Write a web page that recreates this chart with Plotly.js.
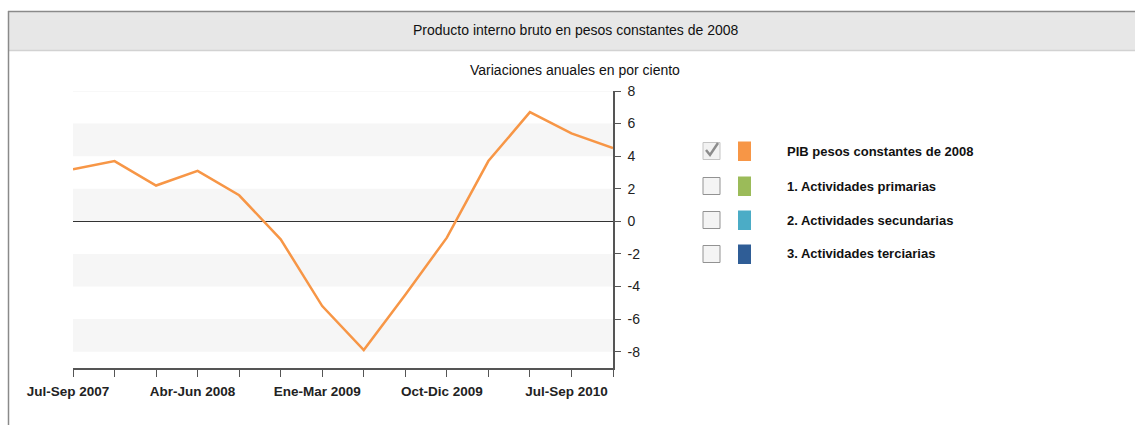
<!DOCTYPE html>
<html>
<head>
<meta charset="utf-8">
<script src="https://cdn.plot.ly/plotly-3.0.1.min.js"></script>
<style>
  html, body { margin: 0; padding: 0; background: #fff; }
  #chart { width: 1135px; height: 425px; }
</style>
</head>
<body>
<div id="chart"></div>
<script>
// ---- data ----
const quarters = [
  "Jul-Sep 2007", "Oct-Dic 2007", "Ene-Mar 2008", "Abr-Jun 2008",
  "Jul-Sep 2008", "Oct-Dic 2008", "Ene-Mar 2009", "Abr-Jun 2009",
  "Jul-Sep 2009", "Oct-Dic 2009", "Ene-Mar 2010", "Abr-Jun 2010",
  "Jul-Sep 2010", "Oct-Dic 2010"
];
const pibValues = [3.2, 3.7, 2.2, 3.1, 1.6, -1.1, -5.2, -7.9, -4.5, -1.0, 3.7, 6.7, 5.4, 4.5];
const tickLabels = ["Jul-Sep 2007", "", "", "Abr-Jun 2008", "", "", "Ene-Mar 2009", "", "",
  "Oct-Dic 2009", "", "", "Jul-Sep 2010", ""];
const yTicks = [-8, -6, -4, -2, 0, 2, 4, 6, 8];
const yTickLabels = ["-8", "-6", "-4", "-2", "0", "2", "4", "6", "8"];
const legendNames = ["PIB pesos constantes de 2008", "1. Actividades primarias",
  "2. Actividades secundarias", "3. Actividades terciarias"];
const legendColors = ["#f79646", "#9bbb59", "#4bacc6", "#2f5d96"];
const legendChecked = [true, false, false, false];
const headerTitle = "Producto interno bruto en pesos constantes de 2008";
const chartTitle = "Variaciones anuales en por ciento";

// ---- layout helpers (pixel -> paper) ----
const W = 1135, H = 425;
const M = { l: 73, r: W - 613, t: 91, b: H - 368 };
const PW = W - M.l - M.r, PH = H - M.t - M.b;
const px = x => (x - M.l) / PW;
const py = y => (H - M.b - y) / PH;

const shapes = [];
const annotations = [];

// header bar
shapes.push({ type: 'rect', xref: 'paper', yref: 'paper', x0: px(8), x1: px(1140), y0: py(50), y1: py(11),
  fillcolor: '#e7e7e7', line: { width: 0 }, layer: 'below' });
shapes.push({ type: 'line', xref: 'paper', yref: 'paper', x0: px(8), x1: px(1140), y0: py(11.5), y1: py(11.5), line: { color: '#8a8a8a', width: 1.5 } });
shapes.push({ type: 'line', xref: 'paper', yref: 'paper', x0: px(8), x1: px(1140), y0: py(50.5), y1: py(50.5), line: { color: '#d2d2d2', width: 1.5 } });
shapes.push({ type: 'line', xref: 'paper', yref: 'paper', x0: px(8.5), x1: px(8.5), y0: py(11), y1: py(430), line: { color: '#8a8a8a', width: 1.5 } });

annotations.push({ xref: 'paper', yref: 'paper', x: px(576), y: py(30), text: headerTitle, showarrow: false,
  xanchor: 'center', yanchor: 'middle', font: { family: 'Liberation Sans, Arial', size: 14, color: '#111' } });
annotations.push({ xref: 'paper', yref: 'paper', x: px(575), y: py(70), text: chartTitle, showarrow: false,
  xanchor: 'center', yanchor: 'middle', font: { family: 'Liberation Sans, Arial', size: 14, color: '#111' } });

// alternating bands
for (let v = -8; v < 8; v += 4) {
  shapes.push({ type: 'rect', xref: 'paper', yref: 'y', x0: 0, x1: 1, y0: v, y1: v + 2,
    fillcolor: '#f6f6f6', line: { width: 0 }, layer: 'below' });
}
shapes.push({ type: 'line', xref: 'paper', yref: 'y', x0: 0, x1: 1, y0: 8, y1: 8, line: { color: '#f2f2f2', width: 1 }, layer: 'below' });

// custom legend
const rowY = [151, 186, 220, 254];
legendNames.forEach((name, i) => {
  const cy = rowY[i];
  shapes.push({ type: 'rect', xref: 'paper', yref: 'paper', x0: px(703), x1: px(720), y0: py(cy + 8.5), y1: py(cy - 8.5),
    fillcolor: legendChecked[i] ? '#f2f2f2' : '#f4f4f4', line: { color: legendChecked[i] ? '#c4c4c4' : '#929292', width: 1 } });
  if (legendChecked[i]) {
    shapes.push({ type: 'path', xref: 'paper', yref: 'paper',
      path: `M ${px(706)},${py(cy - 1)} L ${px(710)},${py(cy + 4)} L ${px(718)},${py(cy - 8)}`,
      line: { color: '#8c8c8c', width: 2.5 } });
  }
  shapes.push({ type: 'rect', xref: 'paper', yref: 'paper', x0: px(738), x1: px(751), y0: py(cy + 10), y1: py(cy - 9.5),
    fillcolor: legendColors[i], line: { width: 0 } });
  annotations.push({ xref: 'paper', yref: 'paper', x: px(785), y: py(cy), text: name, showarrow: false,
    xanchor: 'left', yanchor: 'middle', font: { family: 'Liberation Sans, Arial', size: 13, color: '#111', weight: 'bold' } });
});

const trace = {
  type: 'scatter', mode: 'lines', x: quarters, y: pibValues,
  line: { color: '#f79646', width: 2.5 }, hoverinfo: 'x+y', showlegend: false
};

const layout = {
  width: W, height: H,
  margin: M,
  paper_bgcolor: '#fff', plot_bgcolor: 'rgba(0,0,0,0)',
  showlegend: false,
  font: { family: 'Liberation Sans, Arial', color: '#222' },
  xaxis: {
    type: 'category', range: [0, quarters.length - 1],
    tickmode: 'array', tickvals: quarters, ticktext: tickLabels,
    ticks: 'outside', ticklen: 7, tickcolor: '#555', tickwidth: 1,
    showline: true, linecolor: '#555', linewidth: 1.5,
    showgrid: false, zeroline: false,
    ticklabelstandoff: 3, ticklabelshift: -5,
    tickfont: { size: 13.5, color: '#222', weight: 'bold' }, fixedrange: true
  },
  yaxis: {
    side: 'right', range: [-9, 8],
    tickmode: 'array', tickvals: yTicks, ticktext: yTickLabels,
    ticks: 'outside', ticklen: 6, tickcolor: '#555', tickwidth: 1,
    showline: true, linecolor: '#555', linewidth: 1.5,
    showgrid: false, zeroline: true, zerolinecolor: '#333', zerolinewidth: 1,
    ticklabelstandoff: 4,
    tickfont: { size: 14, color: '#222' }, fixedrange: true
  },
  shapes: shapes,
  annotations: annotations
};

Plotly.newPlot('chart', [trace], layout, { displayModeBar: false });
</script>
</body>
</html>
